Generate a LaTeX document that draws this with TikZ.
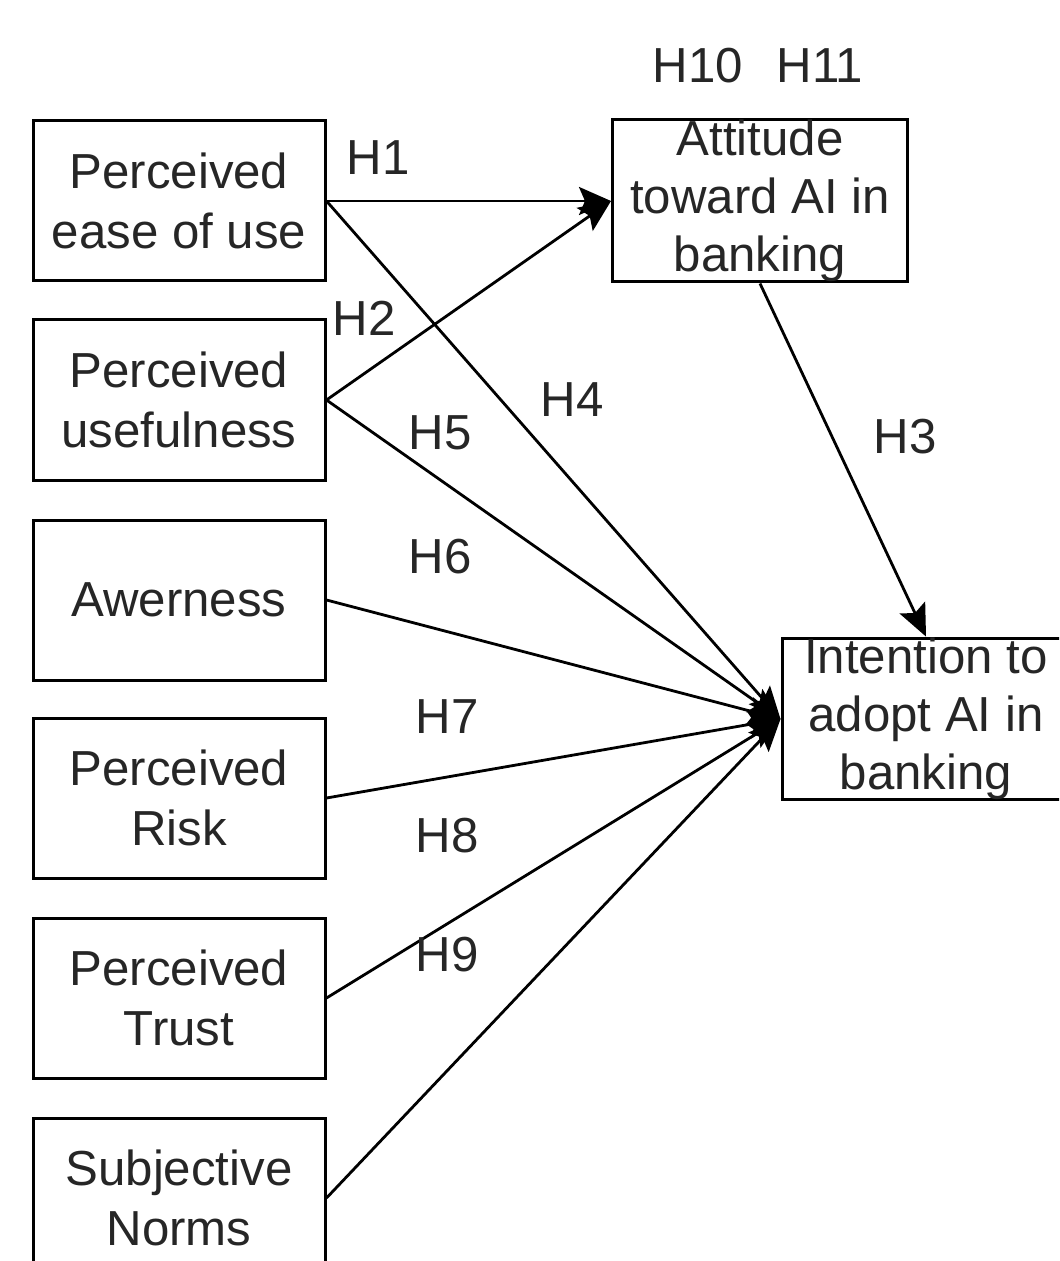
\documentclass[tikz,border=0pt]{standalone}
\usepackage{fontspec}
\setmainfont{Liberation Sans}
\usetikzlibrary{arrows.meta}

\begin{document}
\begin{tikzpicture}
  [x=0.5pt,y=-0.5pt,
   box_style/.style={rectangle,draw,line width=1.5pt,minimum width=146pt,minimum height=80pt,align=center,inner sep=0pt,text=black!85,font=\fontsize{24.6}{30}\selectfont},
   edge_style/.style={draw=black,line width=1.4pt,-{Stealth[length=16pt,width=14pt,inset=3pt]}},
   label_style/.style={inner sep=0pt,text=black!85,font=\fontsize{24.6}{30}\selectfont}]
  \useasboundingbox (0,0) rectangle (1059,1261);
  \clip (0,0) rectangle (1059,1261);
  \node[box_style] (peou) at (179,201) {Perceived\\ease of use};
  \node[box_style] (pu) at (179,400) {Perceived\\usefulness};
  \node[box_style] (aw) at (179,600) {Awerness};
  \node[box_style] (pr) at (179,798) {Perceived\\Risk};
  \node[box_style] (pt) at (179,998) {Perceived\\Trust};
  \node[box_style] (sn) at (179,1198) {Subjective\\Norms};
  \node[box_style,minimum width=147.5pt,minimum height=81pt,font=\fontsize{24.6}{29}\selectfont] (att) at (760,201) {Attitude\\toward AI in\\banking};
  \node[box_style,minimum width=144pt,font=\fontsize{24.6}{29}\selectfont] (int) at (926,719) {Intention to\\adopt AI in\\banking};
  \draw[edge_style] (peou.east) -- (att.west);
  \draw[edge_style] (pu.east) -- (att.west);
  \draw[edge_style] (att.south) -- (int.north);
  \draw[edge_style] (peou.east) -- (int.west);
  \draw[edge_style] (pu.east) -- (int.west);
  \draw[edge_style] (aw.east) -- (int.west);
  \draw[edge_style] (pr.east) -- (int.west);
  \draw[edge_style] (pt.east) -- (int.west);
  \draw[edge_style] (sn.east) -- (int.west);
  \node[label_style] (h1) at (378,158) {H1};
  \node[label_style] (h2) at (364,318) {H2};
  \node[label_style] (h3) at (905,437) {H3};
  \node[label_style] (h4) at (572,400) {H4};
  \node[label_style] (h5) at (440,433) {H5};
  \node[label_style] (h6) at (440,557) {H6};
  \node[label_style] (h7) at (447,717) {H7};
  \node[label_style] (h8) at (447,836) {H8};
  \node[label_style] (h9) at (447,955) {H9};
  \node[label_style] (h10) at (698,66) {H10};
  \node[label_style] (h11) at (820,66) {H11};
\end{tikzpicture}
\end{document}
